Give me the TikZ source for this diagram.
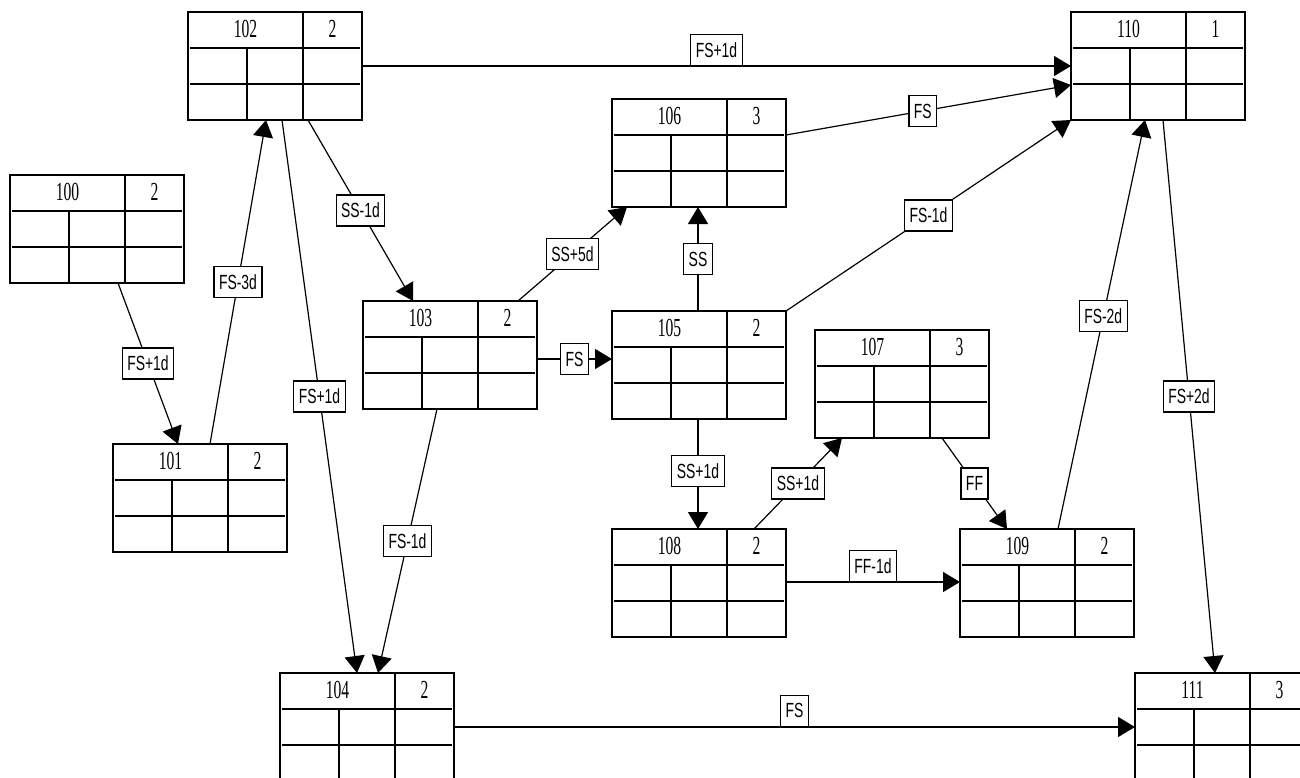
\documentclass[tikz,border=0pt]{standalone}
\usepackage{fontspec}
\newfontfamily\numfont[FakeStretch=0.6]{Liberation Serif}
\newfontfamily\labfont[FakeStretch=0.68]{Liberation Sans}
\usetikzlibrary{arrows.meta}
\tikzset{
 actbox/.style={draw, line width=1.5pt, minimum width=174pt, minimum height=108pt, anchor=north west, inner sep=0pt, outer sep=0pt},
 cellline/.style={line width=1.5pt},
 numtxt/.style={font=\numfont\fontsize{26}{26}\selectfont, inner sep=0pt},
 dep/.style={line width=1.2pt, -{Triangle[length=17pt,width=20pt]}},
 lab/.style={draw, fill=white, line width=1.2pt, font=\labfont\fontsize{20.5}{20.5}\selectfont, inner xsep=5pt, inner ysep=0pt, minimum height=31pt},
 labup/.style={lab, anchor=south},
}
\newcommand\actnode[5]{%
 \node[actbox] (#1) at (#2,#3) {};
 \draw[cellline] ([xshift=2pt,yshift=-36pt]#1.north west) -- ([xshift=-2pt,yshift=-36pt]#1.north east);
 \draw[cellline] ([xshift=2pt,yshift=-72pt]#1.north west) -- ([xshift=-2pt,yshift=-72pt]#1.north east);
 \draw[cellline] ([xshift=59pt,yshift=-36pt]#1.north west) -- ([xshift=59pt]#1.south west);
 \draw[cellline] ([xshift=-59pt]#1.north east) -- ([xshift=-59pt]#1.south east);
 \node[numtxt] (#1n) at ([xshift=57.5pt,yshift=-17pt]#1.north west) {#4};
 \node[numtxt] (#1d) at ([xshift=-29.5pt,yshift=-17pt]#1.north east) {#5};
}
\begin{document}
\begin{tikzpicture}[x=1pt,y=-1pt]
\fill[white] (0,0) rectangle (1300,778);
\clip (0,0) rectangle (1300,778);
\actnode{n100}{10}{175}{100}{2}
\actnode{n101}{113}{444}{101}{2}
\actnode{n102}{188}{12}{102}{2}
\actnode{n103}{363}{301}{103}{2}
\actnode{n104}{280}{673}{104}{2}
\actnode{n105}{612}{311}{105}{2}
\actnode{n106}{612}{99}{106}{3}
\actnode{n107}{815}{330}{107}{3}
\actnode{n108}{612}{529}{108}{2}
\actnode{n109}{960}{529}{109}{2}
\actnode{n110}{1071}{12}{110}{1}
\actnode{n111}{1135}{673}{111}{3}

\draw[dep] ([xshift=108pt]n100.south west) -- node[lab]{FS+1d} ([xshift=65pt]n101.north west);
\draw[dep] ([xshift=97pt]n101.north west) -- node[lab]{FS-3d} ([xshift=78pt]n102.south west);
\draw[dep] ([xshift=94pt]n102.south west) -- node[lab]{FS+1d} ([xshift=77pt]n104.north west);
\draw[dep] ([xshift=120pt]n102.south west) -- node[lab]{SS-1d} ([xshift=50pt]n103.north west);
\draw[dep] ([yshift=-54pt]n102.north east) -- node[labup]{FS+1d} ([yshift=-54pt]n110.north west);
\draw[dep] ([xshift=74pt]n103.south west) -- node[lab]{FS-1d} ([xshift=98pt]n104.north west);
\draw[dep] ([xshift=155pt]n103.north west) -- node[lab]{SS+5d} ([xshift=15pt]n106.south west);
\draw[dep] ([yshift=-58pt]n103.north east) -- node[lab]{FS} ([yshift=-48pt]n105.north west);
\draw[dep] ([xshift=86pt]n105.north west) -- node[lab]{SS} ([xshift=86pt]n106.south west);
\draw[dep] (n105.north east) -- node[lab]{FS-1d} (n110.south west);
\draw[dep] ([yshift=-36pt]n106.north east) -- node[lab, pos=0.48]{FS} ([yshift=-73pt]n110.north west);
\draw[dep] ([xshift=86pt]n105.south west) -- node[lab, pos=0.47]{SS+1d} ([xshift=86pt]n108.north west);
\draw[dep] ([xshift=142pt]n108.north west) -- node[lab]{SS+1d} ([xshift=27pt]n107.south west);
\draw[dep] ([xshift=127pt]n107.south west) -- node[lab]{FF} ([xshift=47pt]n109.north west);
\draw[dep] ([yshift=-53pt]n108.north east) -- node[labup]{FF-1d} ([yshift=-53pt]n109.north west);
\draw[dep] ([xshift=98pt]n109.north west) -- node[lab, pos=0.52]{FS-2d} ([xshift=74pt]n110.south west);
\draw[dep] ([xshift=92pt]n110.south west) -- node[lab]{FS+2d} ([xshift=80pt]n111.north west);
\draw[dep] ([yshift=-54pt]n104.north east) -- node[labup]{FS} ([yshift=-54pt]n111.north west);
\end{tikzpicture}
\end{document}
